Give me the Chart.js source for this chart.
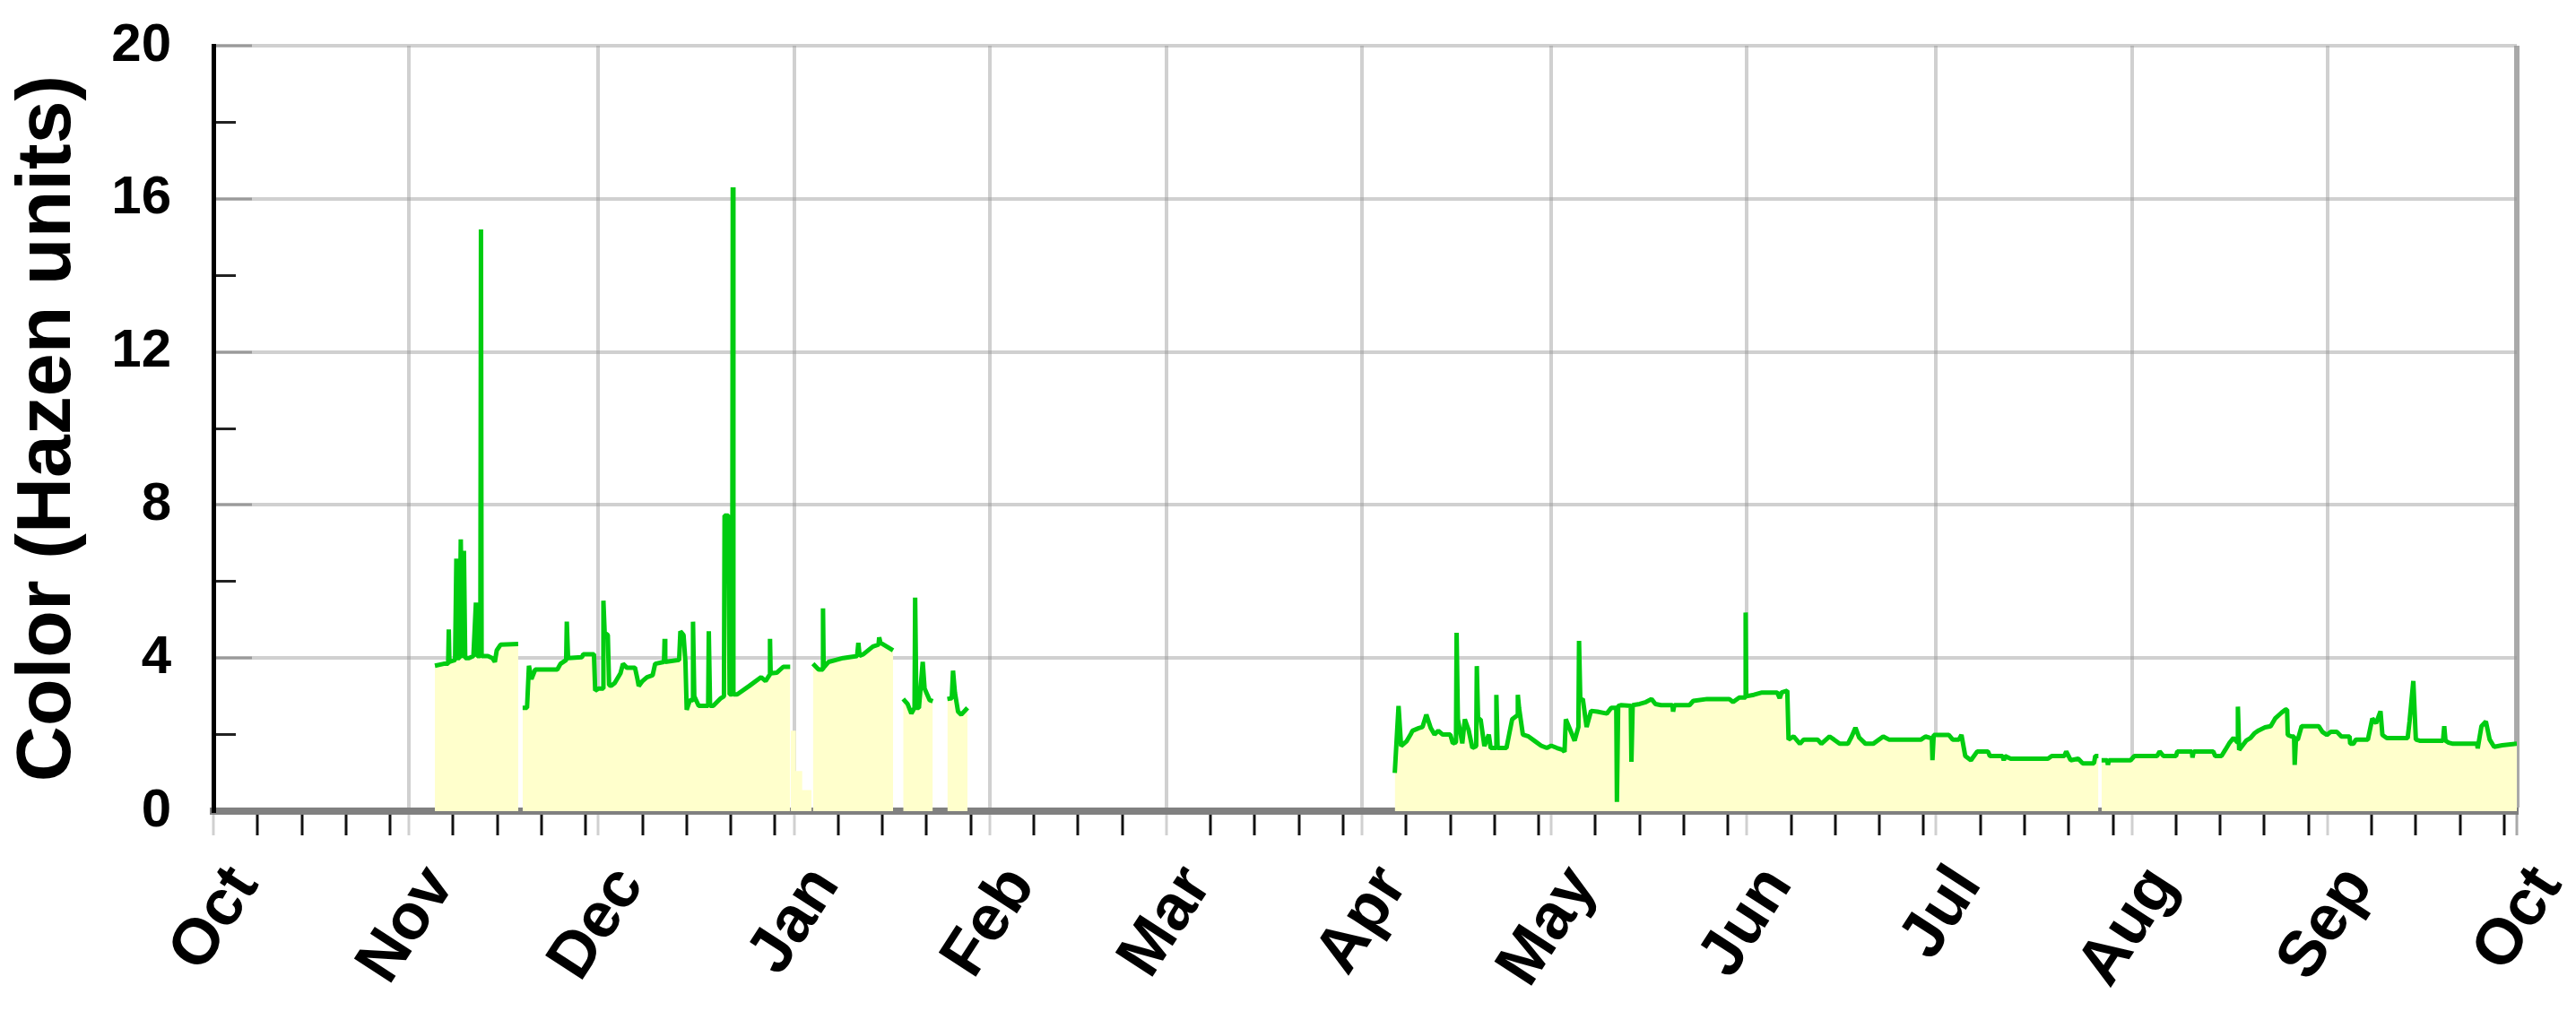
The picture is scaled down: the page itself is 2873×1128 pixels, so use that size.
<!DOCTYPE html>
<html><head><meta charset="utf-8">
<script src="https://cdn.jsdelivr.net/npm/chart.js@4.4.1/dist/chart.umd.min.js"></script>
<style>html,body{margin:0;padding:0;background:#fff;overflow:hidden}#wrap{width:2873px;height:1128px}</style>
</head><body><div id="wrap"><canvas id="c" width="2873" height="1128"></canvas></div>
<script>
const monthLabels = ['Oct','Nov','Dec','Jan','Feb','Mar','Apr','May','Jun','Jul','Aug','Sep','Oct'];
const monthStarts = [0,31,61,92,123,151,182,212,243,273,304,335,365];
const yTicks = [0,4,8,12,16,20];
const yMinorTicks = [2,6,10,14,18];

// days counted from 1 Oct
const days = [
 35.1,36.5,37.2,37.3,37.4,38.3,38.5,38.7,39.0,39.2,39.4,39.7,39.9,40.5,41.2,41.6,41.8,42.3,42.4,42.5,43.5,44.2,44.6,44.9,45.5,48.3,48.6,
 49.0,49.7,50.0,50.4,51.0,54.5,55.0,55.9,56.0,56.2,58.4,58.6,60.3,
 60.5,61.0,61.7,61.8,62.0,62.5,62.7,63.0,63.6,64.5,64.9,65.5,66.8,67.2,67.4,68.0,68.7,69.6,70.0,71.4,71.5,71.6,73.8,74.0,74.5,74.8,75.0,75.5,75.9,76.0,76.2,76.9,78.4,78.5,78.7,79.2,80.4,80.9,81.0,81.6,81.8,82.2,82.3,82.4,83.0,84.9,86.8,87.5,88.1,88.2,88.3,89.3,90.3,91.4,91.6,
 95.0,95.9,96.5,96.6,96.7,97.5,99.8,102.0,102.2,102.4,103.0,104.5,105.4,105.5,105.7,107.7,108.5,
 109.3,110.0,110.6,111.1,111.2,111.4,111.8,112.4,112.7,113.5,114.0,115.0,
 116.3,117.0,117.2,117.5,118.0,118.5,119.5,150.0,
 187.2,187.8,188.2,189.1,189.7,190.0,191.0,191.6,192.2,192.9,193.5,194.1,194.8,196.0,196.4,196.9,197.0,197.2,197.9,198.3,198.9,199.5,200.1,200.2,200.4,200.8,201.4,202.1,202.4,203.2,203.3,203.5,204.9,205.8,206.6,206.7,206.9,207.5,208.4,209.4,210.4,211.3,212.0,212.9,213.8,214.1,
 214.3,214.8,215.7,216.3,216.4,216.6,217.0,217.6,218.3,219.3,220.8,221.5,222.3,222.4,222.6,223.1,224.6,224.7,224.9,226.0,227.0,227.9,228.5,229.4,231.2,231.3,231.5,233.9,234.5,236.7,240.2,240.8,241.8,242.7,242.8,242.9,244.1,245.4,247.8,248.2,248.5,249.4,
 249.6,250.4,251.4,252.0,254.2,254.8,256.1,256.8,257.7,259.0,259.6,260.2,260.8,261.8,263.0,264.6,265.5,270.6,271.3,272.3,272.4,272.6,275.0,275.6,276.6,277.0,277.6,278.5,279.5,281.2,281.5,283.5,283.7,283.9,284.8,290.7,291.3,293.3,293.6,294.3,295.5,296.2,298.0,298.2,298.7,298.9,
 299.2,300.1,300.2,300.4,303.8,304.4,308.0,308.4,309.0,311.0,311.2,313.5,313.6,313.8,316.9,317.2,318.2,318.8,319.5,320.1,320.7,320.8,321.0,322.1,322.8,323.4,324.1,325.1,326.0,326.7,327.7,328.3,328.6,328.7,329.3,329.7,329.8,330.0,330.3,330.9,333.6,334.2,334.9,335.5,336.5,337.2,338.5,338.6,339.1,339.5,341.4,342.1,342.7,343.4,343.7,344.4,347.7,348.0,348.6,349.0,349.6,353.3,353.5,353.7,354.2,354.9,358.7,358.8,359.4,360.1,360.7,361.4,362.7,365.0
];
const hazen = [
 3.8,3.85,3.85,4.75,3.9,3.95,6.6,4.0,4.0,7.1,4.0,6.8,4.0,4.0,4.05,5.45,4.05,4.05,15.2,4.05,4.05,4.0,3.9,4.2,4.35,4.37,null,
 2.7,2.7,3.8,3.45,3.7,3.7,3.85,3.95,4.95,4.0,4.02,4.1,4.1,
 3.15,3.2,3.2,5.5,4.66,4.6,3.3,3.27,3.35,3.6,3.85,3.75,3.75,3.45,3.27,3.4,3.5,3.55,3.85,3.9,4.5,3.9,3.95,4.7,4.6,3.9,2.65,2.9,2.9,4.95,3.0,2.75,2.75,4.7,2.75,2.75,2.95,3.0,7.72,7.72,3.05,3.05,16.3,3.05,3.05,3.27,3.5,3.4,3.55,4.5,3.6,3.62,3.77,3.77,null,
 3.85,3.7,3.7,5.3,3.75,3.9,4.0,4.05,4.4,4.06,4.1,4.3,4.35,4.54,4.4,4.2,null,
 2.93,2.8,2.55,2.7,5.58,2.7,2.7,3.9,3.2,2.9,2.87,null,
 2.93,2.95,3.67,3.1,2.6,2.52,2.7,null,
 1.0,2.75,1.7,1.83,2.0,2.1,2.17,2.2,2.52,2.17,2.0,2.1,2.0,2.0,1.77,1.8,4.66,2.4,1.77,2.4,2.12,1.65,1.7,3.79,2.4,2.4,1.7,2.0,1.65,1.65,3.04,1.65,1.65,2.4,2.5,3.04,2.69,2.0,1.95,1.83,1.71,1.65,1.71,1.65,1.6,1.55,
 2.4,2.2,1.84,2.2,4.45,2.9,2.93,2.2,2.62,2.6,2.55,2.7,2.7,0.24,2.75,2.77,2.75,1.29,2.77,2.8,2.85,2.93,2.8,2.77,2.77,2.6,2.77,2.77,2.88,2.93,2.93,2.85,2.97,2.97,5.19,3.0,3.04,3.1,3.1,2.95,3.1,3.15,
 1.87,1.95,1.76,1.87,1.87,1.76,1.95,1.87,1.76,1.76,1.95,2.18,1.92,1.76,1.76,1.95,1.87,1.87,1.95,1.9,1.33,1.99,1.99,1.87,1.87,1.99,1.44,1.33,1.56,1.56,1.44,1.44,1.33,1.44,1.37,1.37,1.44,1.44,1.56,1.33,1.37,1.25,1.25,1.44,1.44,null,
 1.33,1.33,1.21,1.33,1.33,1.44,1.44,1.56,1.44,1.44,1.56,1.56,1.40,1.56,1.56,1.44,1.44,1.6,1.79,1.91,1.8,2.73,1.6,1.84,1.91,2.03,2.11,2.19,2.22,2.42,2.57,2.65,2.65,1.99,1.95,1.95,1.21,1.87,1.87,2.22,2.22,2.07,1.99,2.07,2.07,1.95,1.95,1.76,1.76,1.87,1.87,2.42,2.3,2.61,1.99,1.91,1.91,2.34,3.4,1.87,1.84,1.84,2.22,1.84,1.79,1.76,1.76,1.64,2.22,2.34,1.87,1.68,1.72,1.76
];
// fill-only tail after the early-January record
const stubDays = [91.5,92.3,93.3,94.2,94.8];
const stubHazen = [3.2,2.1,1.05,0.55,0.55];

const FONT = "'Liberation Sans', Arial, Helvetica, sans-serif";
const GRID = 'rgba(150,150,150,0.45)';

const xTickDays = [];
for (let i = 0; i < monthStarts.length; i++) {
  xTickDays.push(monthStarts[i]);
  if (i < monthStarts.length - 1) {
    for (const k of [7,14,21,28]) if (monthStarts[i] + k < monthStarts[i+1]) xTickDays.push(monthStarts[i] + k);
  }
}
const isMonth = v => monthStarts.indexOf(v) >= 0;

const mainPts = days.map((d, i) => ({x: d, y: hazen[i]}));
const stubPts = stubDays.map((d, i) => ({x: d, y: stubHazen[i]}));

new Chart(document.getElementById('c'), {
  type: 'line',
  data: { datasets: [
    { data: mainPts, borderColor: '#00cc11', backgroundColor: '#ffffcc', fill: 'origin', borderWidth: 5,
      pointRadius: 0, tension: 0, spanGaps: false, borderJoinStyle: 'bevel', order: 1 },
    { data: stubPts, borderColor: 'rgba(0,0,0,0)', backgroundColor: '#ffffcc', fill: 'origin', borderWidth: 0,
      pointRadius: 0, stepped: 'after', order: 2 }
  ]},
  options: {
    responsive: false, animation: false, devicePixelRatio: 1,
    layout: { padding: { top: 51, right: 66, bottom: 0, left: 0 } },
    plugins: { legend: { display: false }, tooltip: { enabled: false } },
    scales: {
      x: {
        type: 'linear', position: 'bottom', min: 0, max: 365, z: 1,
        afterBuildTicks: s => { s.ticks = xTickDays.map(v => ({ value: v })); },
        afterFit: s => { s.height = 223; s.paddingLeft = 0; s.paddingRight = 0; },
        ticks: {
          autoSkip: false, minRotation: 57, maxRotation: 57, padding: 20, labelOffset: 35,
          color: '#000', font: { family: FONT, size: 72, weight: 'bold' },
          callback: v => { const i = monthStarts.indexOf(v); return i >= 0 ? monthLabels[i] : ''; }
        },
        grid: {
          color: c => { const v = c.tick.value; if (v === 0) return 'rgba(0,0,0,0)'; if (v === 365) return '#a9a9a9'; return isMonth(v) ? GRID : 'rgba(0,0,0,0)'; },
          lineWidth: c => (c.tick.value === 365 ? 6 : 4),
          tickColor: c => { const v = c.tick.value; if (v === 365) return '#a9a9a9'; return isMonth(v) ? GRID : '#111'; },
          tickLength: 27, tickWidth: 3
        },
        border: { color: '#808080', width: 8 }
      },
      y: {
        type: 'linear', position: 'left', min: 0, max: 20, weight: 1,
        afterBuildTicks: s => { s.ticks = yTicks.map(v => ({ value: v })); },
        afterFit: s => { s.width = 238; s.paddingTop = 0; s.paddingBottom = 0; },
        ticks: { color: '#000', font: { family: FONT, size: 60, weight: 'bold' }, padding: 90 },
        grid: { color: GRID, lineWidth: 4, tickColor: '#9a9a9a', tickLength: -43, tickWidth: 3 },
        border: { color: '#000', width: 5 },
        title: { display: true, text: 'Color (Hazen units)', color: '#000',
                 font: { family: FONT, size: 86, weight: 'bold' }, padding: { top: 3, bottom: 0 } }
      },
      y2: {
        type: 'linear', position: 'left', min: 0, max: 20, weight: 0,
        afterBuildTicks: s => { s.ticks = yMinorTicks.map(v => ({ value: v })); },
        afterFit: s => { s.width = 0; s.paddingTop = 0; s.paddingBottom = 0; },
        ticks: { display: false },
        grid: { drawOnChartArea: false, tickLength: -25, tickColor: '#222', tickWidth: 3 },
        border: { display: false }
      }
    }
  }
});
</script>
</body></html>
